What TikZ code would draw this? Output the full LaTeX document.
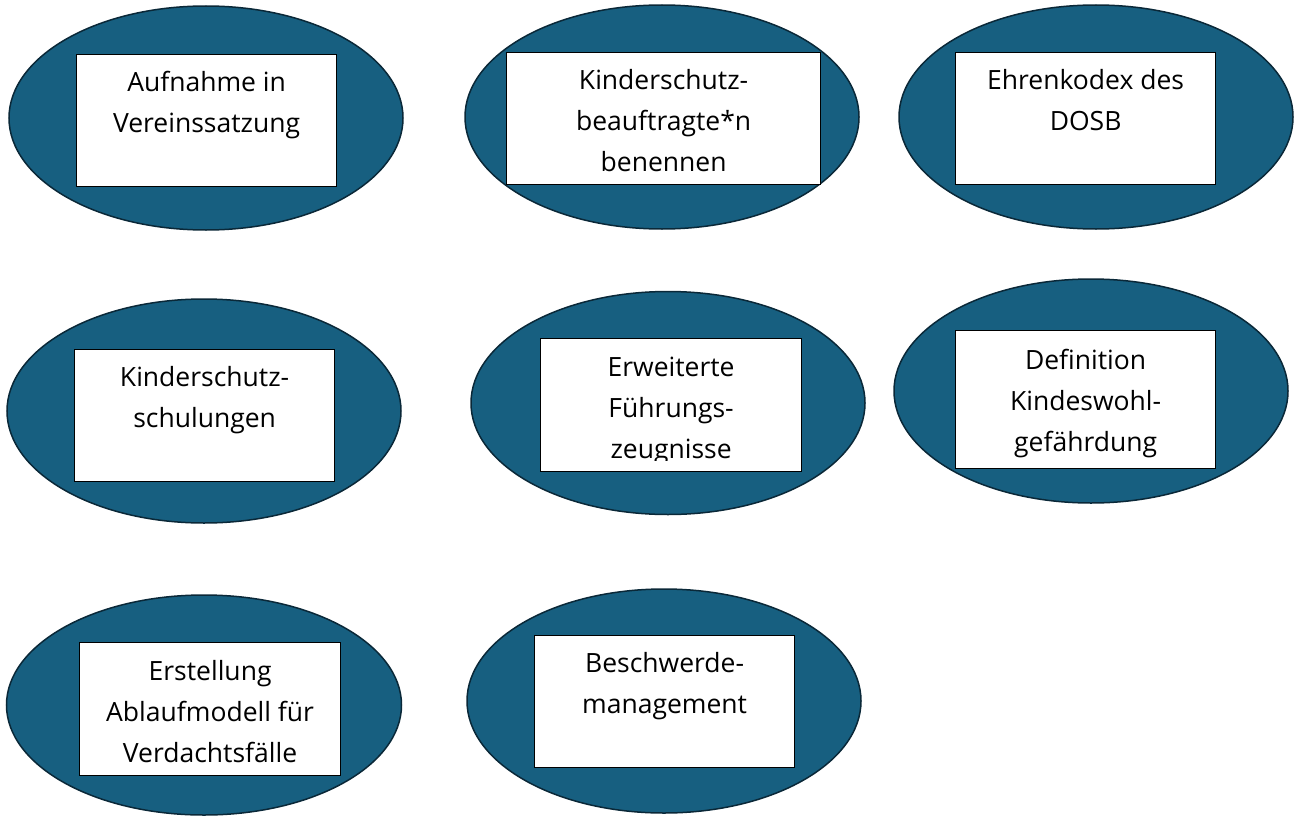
\documentclass[tikz,border=0pt]{standalone}
\usepackage{fontspec}
\setmainfont{Open Sans}
\usetikzlibrary{shapes.geometric}
\definecolor{ovalfill}{RGB}{23,95,128}
\definecolor{ovaledge}{RGB}{10,40,56}
\tikzset{
  oval/.style={ellipse, draw=ovaledge, line width=1.5pt, fill=ovalfill, inner sep=0pt},
  card/.style={draw=black, line width=1.2pt, fill=white, inner sep=0pt, anchor=north west},
  cardtext/.style={anchor=north, inner sep=0pt, align=center, text=black,
    font=\fontsize{26.5}{41}\selectfont}
}
\begin{document}
\begin{tikzpicture}[x=1pt, y=-1pt]
\useasboundingbox (0,0) rectangle (1300,816);
% row 1
\node[oval, minimum width=394pt, minimum height=224pt] (e1) at (206,118) {};
\node[card, minimum width=260pt, minimum height=132pt] (r1) at (76,54) {};
\node[cardtext] (t1) at ([yshift=-9pt]r1.north) {\strut Aufnahme in\\\strut Vereinssatzung};

\node[oval, minimum width=394pt, minimum height=224pt] (e2) at (662,117) {};
\node[card, minimum width=314pt, minimum height=132pt] (r2) at (506,52) {};
\node[cardtext] (t2) at ([yshift=-9pt]r2.north) {\strut Kinderschutz-\\\strut beauftragte*n\\\strut benennen};

\node[oval, minimum width=394pt, minimum height=224pt] (e3) at (1096,117) {};
\node[card, minimum width=260pt, minimum height=132pt] (r3) at (955,52) {};
\node[cardtext] (t3) at ([yshift=-9pt]r3.north) {\strut Ehrenkodex des\\\strut DOSB};

% row 2
\node[oval, minimum width=394pt, minimum height=224pt] (e4) at (204,411) {};
\node[card, minimum width=260pt, minimum height=132pt] (r4) at (74,349) {};
\node[cardtext] (t4) at ([yshift=-9pt]r4.north) {\strut Kinderschutz-\\\strut schulungen};

\node[oval, minimum width=394pt, minimum height=223pt] (e5) at (668,403) {};
\node[card, minimum width=261pt, minimum height=133pt] (r5) at (540,338) {};
\begin{scope}
\clip (540,338) rectangle (801,460);
\node[cardtext] (t5) at ([yshift=-10pt]r5.north) {\strut Erweiterte\\\strut Führungs-\\\strut zeugnisse};
\end{scope}

\node[oval, minimum width=394pt, minimum height=224pt] (e6) at (1091,391) {};
\node[card, minimum width=260pt, minimum height=138pt] (r6) at (955,330) {};
\node[cardtext] (t6) at ([yshift=-11pt]r6.north) {\strut Definition\\\strut Kindeswohl-\\\strut gefährdung};

% row 3
\node[oval, minimum width=395pt, minimum height=220pt] (e7) at (204,705) {};
\node[card, minimum width=261pt, minimum height=133pt] (r7) at (79,642) {};
\node[cardtext] (t7) at ([yshift=-10pt]r7.north) {\strut Erstellung\\\strut Ablaufmodell für\\\strut Verdachtsfälle};

\node[oval, minimum width=394pt, minimum height=224pt] (e8) at (664,701) {};
\node[card, minimum width=260pt, minimum height=132pt] (r8) at (534,635) {};
\node[cardtext] (t8) at ([yshift=-9pt]r8.north) {\strut Beschwerde-\\\strut management};
\end{tikzpicture}
\end{document}
